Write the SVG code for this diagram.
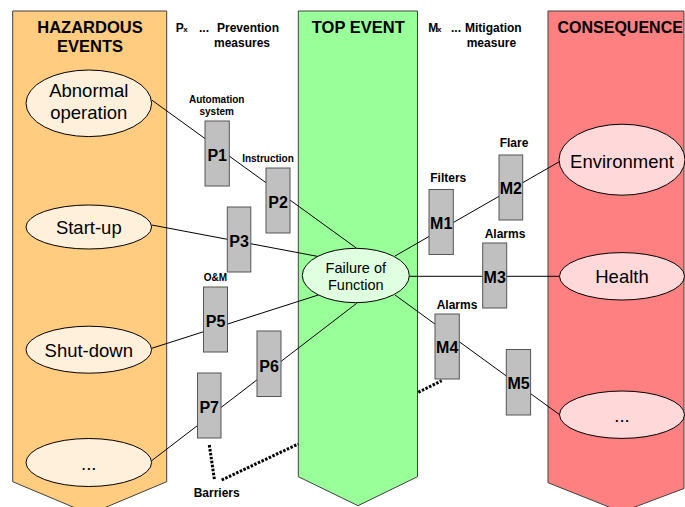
<svg xmlns="http://www.w3.org/2000/svg" width="685" height="507" viewBox="0 0 685 507">
<style>
.col{stroke:#404040;stroke-width:1}
.hdr{font-family:"Liberation Sans",Arial,sans-serif;font-weight:bold;font-size:16.5px;fill:#000}
.note{font-family:"Liberation Sans",Arial,sans-serif;font-weight:bold;font-size:12px;fill:#000}
.sub{font-size:8px}
.small{font-family:"Liberation Sans",Arial,sans-serif;font-weight:bold;font-size:10px;fill:#000}
.box{fill:#c0c0c0;stroke:#555;stroke-width:1}
.blbl{font-family:"Liberation Sans",Arial,sans-serif;font-weight:bold;font-size:16px;fill:#000;text-anchor:middle}
.ell{stroke:#000;stroke-width:1}
.etxt{font-family:"Liberation Sans",Arial,sans-serif;font-size:18.5px;fill:#000;text-anchor:middle}
.ftxt{font-family:"Liberation Sans",Arial,sans-serif;font-size:14.5px;fill:#000;text-anchor:middle}
.ln{stroke:#000;stroke-width:1;fill:none}
.dot{stroke:#000;stroke-width:3;stroke-dasharray:2.5 1.5;fill:none}
</style>
<rect width="685" height="507" fill="#fff"/>
<g id="columns">
<polygon class="col" fill="#ffcc80" points="12.7,11 166.7,11 166.7,481.7 89.7,514 12.7,481.7"/>
<polygon class="col" fill="#99ff99" points="298.3,11 417.5,11 417.5,476.7 358,505.7 298.3,476.7"/>
<polygon class="col" fill="#ff8080" points="548,11 684,11 684,488.5 621.5,512 548,482.7"/>
<text class="hdr" x="90" y="33" text-anchor="middle">HAZARDOUS</text>
<text class="hdr" x="90" y="52.3" text-anchor="middle">EVENTS</text>
<text class="hdr" x="358.3" y="33" text-anchor="middle">TOP EVENT</text>
<text class="hdr" x="557.5" y="33" style="font-size:16px">CONSEQUENCE</text>
</g>
<g id="legend">
<text class="note" y="31.7"><tspan x="175.7">P</tspan><tspan class="sub" x="183.3">x</tspan><tspan x="199">...</tspan><tspan x="217">Prevention</tspan></text>
<text class="note" x="214" y="46.7">measures</text>
<text class="note" y="31.7"><tspan x="428.3">M</tspan><tspan class="sub" x="437">x</tspan><tspan x="451">...</tspan><tspan x="465">Mitigation</tspan></text>
<text class="note" x="466.7" y="46.7">measure</text>
</g>
<g id="connectors">
<line class="ln" x1="151.7" y1="100" x2="356.7" y2="248.3"/>
<line class="ln" x1="151.7" y1="225" x2="318.3" y2="256.5"/>
<line class="ln" x1="151.7" y1="348.3" x2="318.3" y2="295"/>
<line class="ln" x1="151.7" y1="460.7" x2="356.7" y2="303.3"/>
<line class="ln" x1="395" y1="256" x2="559.3" y2="161.7"/>
<line class="ln" x1="409.3" y1="276.3" x2="559.3" y2="276.3"/>
<line class="ln" x1="395" y1="295" x2="560" y2="415"/>
<line class="dot" x1="209.3" y1="445" x2="214.5" y2="480"/>
<line class="dot" x1="221.7" y1="480" x2="298.3" y2="444"/>
<line class="dot" x1="418.3" y1="392.3" x2="441.7" y2="380.7"/>
</g>
<g id="abnormal"><ellipse class="ell" fill="#fff0dc" cx="88.8" cy="103.3" rx="62.8" ry="33.3"/><text class="etxt" x="88.8" y="97">Abnormal</text><text class="etxt" x="88.8" y="119">operation</text></g>
<g id="startup"><ellipse class="ell" fill="#fff0dc" cx="88.8" cy="227" rx="62.8" ry="22"/><text class="etxt" x="88.8" y="233.5">Start-up</text></g>
<g id="shutdown"><ellipse class="ell" fill="#fff0dc" cx="88.8" cy="349.7" rx="62.8" ry="23.5"/><text class="etxt" x="88.8" y="356.5">Shut-down</text></g>
<g id="hazard-more"><ellipse class="ell" fill="#fff0dc" cx="88.8" cy="462.5" rx="62.8" ry="24"/><text class="etxt" x="88.8" y="470">...</text></g>
<g id="failure"><ellipse class="ell" fill="#e0ffe0" cx="355.8" cy="275.5" rx="53.5" ry="27.2"/><text class="ftxt" x="355.8" y="273.3">Failure of</text><text class="ftxt" x="355.8" y="290">Function</text></g>
<g id="environment"><ellipse class="ell" fill="#ffd9d9" cx="622" cy="159.7" rx="63" ry="35.5"/><text class="etxt" x="622" y="168">Environment</text></g>
<g id="health"><ellipse class="ell" fill="#ffd9d9" cx="622" cy="276.3" rx="62.5" ry="23.7"/><text class="etxt" x="622" y="283">Health</text></g>
<g id="cons-more"><ellipse class="ell" fill="#ffd9d9" cx="622" cy="414.7" rx="62.5" ry="23.7"/><text class="etxt" x="622" y="422">...</text></g>
<g id="P1"><rect class="box" x="205" y="121" width="24.3" height="65"/><text class="blbl" x="217.2" y="160.5">P1</text><text class="small" x="216.7" y="102.7" text-anchor="middle">Automation</text><text class="small" x="216.7" y="114.5" text-anchor="middle">system</text></g>
<g id="P2"><rect class="box" x="266" y="168" width="24" height="65"/><text class="blbl" x="278" y="208">P2</text><text class="small" x="268" y="162.3" text-anchor="middle">Instruction</text></g>
<g id="P3"><rect class="box" x="227.3" y="207" width="23.5" height="65"/><text class="blbl" x="239" y="246.5">P3</text></g>
<g id="P5"><rect class="box" x="203.5" y="287" width="24" height="65"/><text class="blbl" x="215.5" y="326.5">P5</text><text class="small" x="215.3" y="280.7" text-anchor="middle">O&amp;M</text></g>
<g id="P6"><rect class="box" x="257" y="331" width="24" height="65.5"/><text class="blbl" x="269" y="371.5">P6</text></g>
<g id="P7"><rect class="box" x="197.5" y="373" width="23.5" height="65"/><text class="blbl" x="209.2" y="412.5">P7</text></g>
<g id="M1"><rect class="box" x="429" y="189.5" width="24.3" height="65"/><text class="blbl" x="441.2" y="229">M1</text><text class="note" x="448.3" y="181.7" text-anchor="middle">Filters</text></g>
<g id="M2"><rect class="box" x="499" y="155" width="23.7" height="65"/><text class="blbl" x="510.8" y="194.3">M2</text><text class="note" x="514" y="146.7" text-anchor="middle">Flare</text></g>
<g id="M3"><rect class="box" x="482.7" y="243" width="24" height="65"/><text class="blbl" x="494.7" y="282.5">M3</text><text class="note" x="505" y="238.3" text-anchor="middle">Alarms</text></g>
<g id="M4"><rect class="box" x="435" y="314" width="24.3" height="65"/><text class="blbl" x="447.2" y="353.3">M4</text><text class="note" x="457" y="309.3" text-anchor="middle">Alarms</text></g>
<g id="M5"><rect class="box" x="506.3" y="349.5" width="24.3" height="65.5"/><text class="blbl" x="518.5" y="389">M5</text></g>
<g id="barriers"><text class="note" x="216.7" y="496.7" text-anchor="middle">Barriers</text></g>
</svg>
